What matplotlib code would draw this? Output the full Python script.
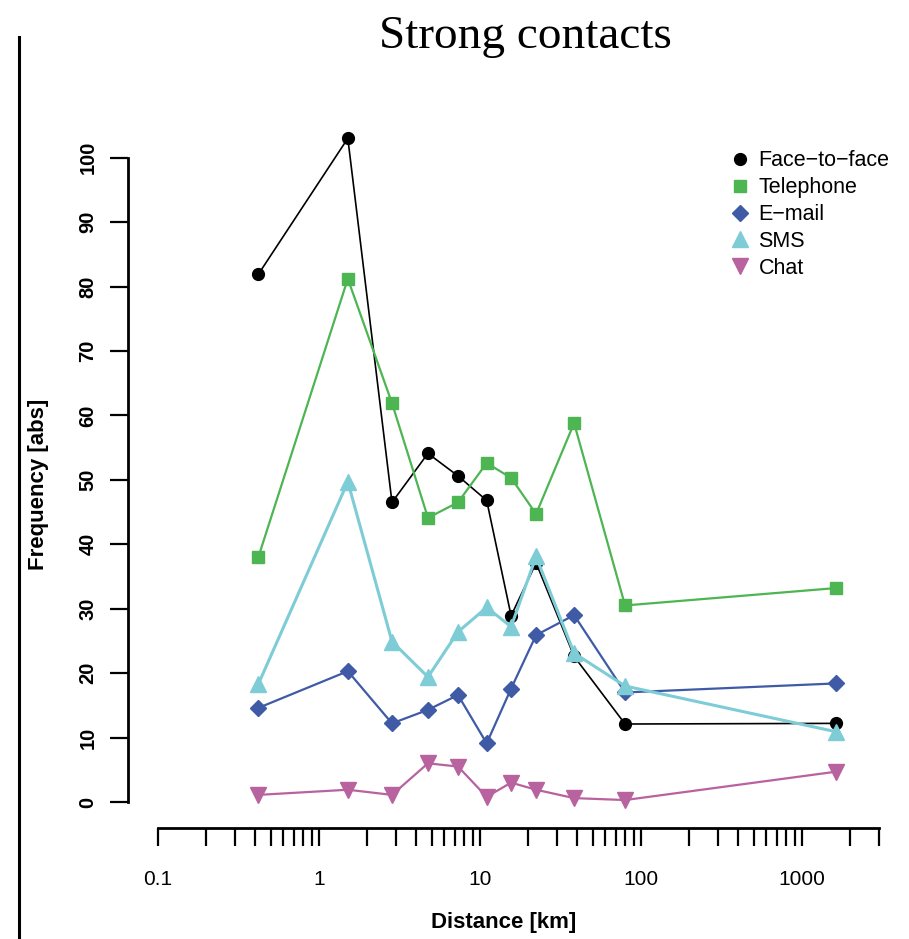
import matplotlib
matplotlib.use("Agg")
import matplotlib.pyplot as plt
from matplotlib.lines import Line2D
from matplotlib.ticker import NullFormatter, FixedLocator

# distance bins [km] (midpoints)
distance = [0.42, 1.51, 2.84, 4.75, 7.3, 11.0, 15.6, 22.3, 38.4, 79.6, 1626]

face_to_face = [81.9, 103.0, 46.5, 54.1, 50.6, 46.8, 28.9, 37.1, 22.6, 12.1, 12.2]
telephone    = [38.0, 81.2, 61.9, 44.1, 46.5, 52.6, 50.3, 44.7, 58.8, 30.5, 33.2]
email        = [14.6, 20.3, 12.2, 14.3, 16.6, 9.1, 17.6, 25.9, 29.0, 17.0, 18.4]
sms          = [18.3, 49.7, 24.9, 19.4, 26.4, 30.2, 27.2, 38.1, 23.1, 18.0, 10.9]
chat         = [1.1, 1.9, 1.1, 6.0, 5.5, 0.8, 3.0, 1.9, 0.6, 0.3, 4.7]

x_ticks = [0.1, 1, 10, 100, 1000]
x_ticklabels = ["0.1", "1", "10", "100", "1000"]
y_ticks = list(range(0, 101, 10))

SERIES = [
    ("Face\u2212to\u2212face", face_to_face, dict(color="#000000", marker="o", ms=8.5, lw=1.2)),
    ("Telephone",              telephone,    dict(color="#4DB552", marker="s", ms=8, lw=1.6)),
    ("E\u2212mail",            email,        dict(color="#3F5BA6", marker="D", ms=8.5, lw=1.6)),
    ("SMS",                    sms,          dict(color="#7DCCD6", marker="^", ms=11, lw=2.2)),
    ("Chat",                   chat,         dict(color="#B962A0", marker="v", ms=11, lw=1.6)),
]

plt.rcParams["font.family"] = ["Liberation Sans", "DejaVu Sans"]

fig = plt.figure(figsize=(9.09, 9.39), dpi=100)
ax = fig.add_axes([0.1408, 0.1182, 0.837, 0.7434])

for name, vals, st in SERIES:
    ax.plot(distance, vals, color=st["color"], lw=st["lw"], marker=st["marker"],
            ms=st["ms"], mec=st["color"], mfc=st["color"], clip_on=False, label=name)

ax.set_xscale("log")
ax.set_xlim(0.0651, 3460)
ax.set_ylim(-4.04, 104.3)

# R-style detached axes
for s in ("top", "right"):
    ax.spines[s].set_visible(False)
ax.spines["left"].set_bounds(0, 100)
ax.spines["bottom"].set_bounds(0.1, 3000)
for s in ("left", "bottom"):
    ax.spines[s].set_linewidth(2.0)

ax.set_yticks(y_ticks)
ax.set_yticklabels([str(v) for v in y_ticks], rotation=90, va="center",
                   fontsize=14.5, fontweight="bold")

minor = [m * 10.0 ** e for e in range(-1, 3) for m in range(2, 10)] + [2000, 3000]
ax.xaxis.set_major_locator(FixedLocator(x_ticks))
ax.xaxis.set_minor_locator(FixedLocator(minor))
ax.set_xticklabels(x_ticklabels, fontsize=15)
ax.xaxis.set_minor_formatter(NullFormatter())
ax.tick_params(axis="both", which="both", direction="out", length=13, width=1.6, color="black")
ax.tick_params(axis="x", which="both", pad=17)
ax.tick_params(axis="y", pad=9)

ax.set_xlabel("Distance [km]", fontsize=16, fontweight="bold")
ax.set_ylabel("Frequency [abs]", fontsize=16, fontweight="bold")
ax.xaxis.set_label_coords(0.5 - 5 / 761, -(922 - 828) / 698)
ax.xaxis.label.set_va("center")
ax.yaxis.set_label_coords(-(128 - 38) / 761, 0.5 - 5 / 698)
ax.yaxis.label.set_va("center")

handles = [Line2D([], [], ls="", marker=st["marker"], ms=st["ms"], color=st["color"])
           for _, _, st in SERIES]
ax.legend(handles, [n for n, _, _ in SERIES], loc="upper left", bbox_to_anchor=(0.782, 0.983),
          frameon=False, fontsize=15.5, handlelength=0.8, handletextpad=0.45, labelspacing=0.27,
          borderaxespad=0)

fig.text(0.578, 0.949, "Strong contacts", family="Liberation Serif", fontsize=34,
         ha="center", va="baseline")

# stray left border line of the original panel
fig.add_artist(Line2D([19 / 909, 19 / 909], [0, 1 - 37 / 939], color="black", lw=2.2,
                      transform=fig.transFigure))

fig.savefig("out.png", dpi=100)
